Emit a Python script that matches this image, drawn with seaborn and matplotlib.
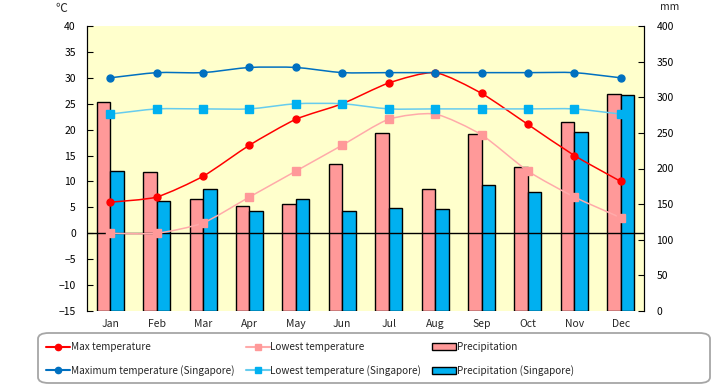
import numpy as np
import pandas as pd
import matplotlib
matplotlib.use("Agg")
import matplotlib.pyplot as plt
import seaborn as sns
from matplotlib.path import Path
from matplotlib.patches import PathPatch, Patch, FancyBboxPatch
from matplotlib.lines import Line2D

# data
months = ["Jan", "Feb", "Mar", "Apr", "May", "Jun", "Jul", "Aug", "Sep", "Oct", "Nov", "Dec"]
max_temp = [6, 7, 11, 17, 22, 25, 29, 31, 27, 21, 15, 10]
low_temp = [0, 0, 2, 7, 12, 17, 22, 23, 19, 12, 7, 3]
max_temp_sg = [30, 31, 31, 32, 32, 31, 31, 31, 31, 31, 31, 30]
low_temp_sg = [23, 24, 24, 24, 25, 25, 24, 24, 24, 24, 24, 23]
precip = [293, 195, 157, 147, 150, 206, 250, 171, 248, 202, 265, 304]
precip_sg = [197, 154, 171, 140, 157, 140, 144, 143, 177, 167, 251, 303]

labels = ["Max temperature", "Lowest temperature", "Precipitation",
          "Maximum temperature (Singapore)", "Lowest temperature (Singapore)",
          "Precipitation (Singapore)"]

C = {
    'bg': '#FFFFCC',
    'red': '#FF0000',
    'pink': '#FF9999',
    'pink_line': '#FFAAAA',
    'blue': '#0070C0',
    'sky': '#00B0F0',
    'sky_line': '#66CCEE',
}

sns.set_style("ticks")
plt.rcParams['font.family'] = ['Noto Sans CJK JP', 'DejaVu Sans']
plt.rcParams['font.size'] = 7


def smooth_path(xs, ys, k=1 / 9):
    # gentle bezier smoothing, like the "smoothed line" option of the source
    pts = np.column_stack([xs, ys]).astype(float)
    ext = np.vstack([pts[0], pts, pts[-1]])
    verts = [pts[0]]
    codes = [Path.MOVETO]
    for i in range(1, len(ext) - 2):
        p0, p1, p2, p3 = ext[i - 1], ext[i], ext[i + 1], ext[i + 2]
        verts += [p1 + (p2 - p0) * k, p2 - (p3 - p1) * k, p2]
        codes += [Path.CURVE4] * 3
    return Path(verts, codes)


fig = plt.figure(figsize=(7.2, 3.85), dpi=100)
ax_p = fig.add_axes([87 / 720, 1 - 311 / 385, 557 / 720, 285 / 385])
ax_p.set_facecolor(C['bg'])

df = pd.DataFrame({
    'month': months * 2,
    'mm': precip + precip_sg,
    'series': ['Precipitation'] * 12 + ['Precipitation (Singapore)'] * 12,
})
sns.barplot(data=df, x='month', y='mm', hue='series', ax=ax_p, width=0.58,
            palette=[C['pink'], C['sky']], saturation=1, edgecolor='black',
            linewidth=1, legend=False)
ax_p.set_ylim(0, 400)
ax_p.set_yticks(range(0, 401, 50))
ax_p.set_xlim(-0.5, 11.5)
ax_p.set_xlabel("")
ax_p.set_ylabel("")

# temperature axis on top of the bars
ax_t = ax_p.twinx()
ax_t.set_ylim(-15, 40)
ax_t.set_yticks(range(-15, 41, 5))
ax_t.axhline(0, color='black', lw=1, zorder=1)

x = np.arange(12)
series = [
    (max_temp, C['red'], C['red'], 'o', 5),
    (low_temp, C['pink_line'], C['pink'], 's', 5.2),
    (max_temp_sg, C['blue'], C['blue'], 'o', 5),
    (low_temp_sg, C['sky_line'], C['sky'], 's', 5.5),
]
for ys, lc, mc, mk, ms in series:
    ax_t.add_patch(PathPatch(smooth_path(x, ys), facecolor='none', edgecolor=lc, lw=1.1, zorder=3))
    ax_t.plot(x, ys, ls='none', marker=mk, ms=ms, color=mc, zorder=4)

# axis cosmetics: temps on the left, mm on the right
ax_p.yaxis.tick_right()
ax_t.yaxis.tick_left()
for a in (ax_p, ax_t):
    a.spines['top'].set_visible(False)
    a.spines['bottom'].set_visible(False)
    a.spines['left'].set_color('black')
    a.spines['right'].set_color('black')
ax_p.tick_params(axis='y', direction='in', length=4, pad=9, labelsize=7.5, colors='black')
ax_t.tick_params(axis='y', direction='in', length=4, pad=8, labelsize=7.5, colors='black')
ax_p.tick_params(axis='x', length=0, pad=6, labelsize=7.5)

fig.text(61 / 720, 1 - 8 / 385, "℃", ha='center', va='center', fontsize=8.5)
fig.text(670 / 720, 1 - 7 / 385, "mm", ha='center', va='center', fontsize=7.5)

# legend box
fig.patches.append(FancyBboxPatch((38 / 720, 1 - 383 / 385), 672 / 720, 50 / 385,
                                  boxstyle="round,pad=0,rounding_size=0.015",
                                  transform=fig.transFigure, facecolor='white',
                                  edgecolor='#A6A6A6', lw=1.3, zorder=0))
handles = [
    Line2D([], [], color=C['red'], marker='o', ms=4.5),
    Line2D([], [], color=C['blue'], marker='o', ms=4.5),
    Line2D([], [], color=C['pink_line'], marker='s', markerfacecolor=C['pink'], markeredgecolor=C['pink'], ms=5),
    Line2D([], [], color=C['sky_line'], marker='s', markerfacecolor=C['sky'], markeredgecolor=C['sky'], ms=5),
    Patch(facecolor=C['pink'], edgecolor='black'),
    Patch(facecolor=C['sky'], edgecolor='black'),
]
leg_labels = [labels[0], labels[3], labels[1], labels[4], labels[2], labels[5]]
fig.legend(handles, leg_labels, ncol=3, loc='center left',
           bbox_to_anchor=(46 / 720, 1 - 359 / 385), frameon=False, fontsize=7.2,
           handlelength=2.4, handletextpad=0.1, columnspacing=1.1, labelspacing=1.25,
           borderaxespad=0, borderpad=0)

fig.savefig("out.png", dpi=100)
